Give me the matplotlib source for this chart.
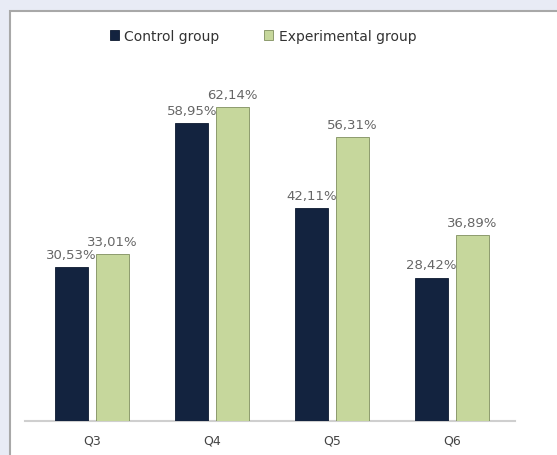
import matplotlib
matplotlib.use('Agg')
import matplotlib.pyplot as plt
from matplotlib.patches import Rectangle
import numpy as np

categories = ['Q3', 'Q4', 'Q5', 'Q6']
control = [30.53, 58.95, 42.11, 28.42]
experimental = [33.01, 62.14, 56.31, 36.89]
series_names = ['Control group', 'Experimental group']

fig = plt.figure(figsize=(5.57, 4.56), dpi=100)
fig.patch.set_facecolor('#e8ebf5')

# white panel with grey frame (behind the axes)
panel = Rectangle((10 / 557, -0.05), 1.1, 1 - 12 / 456 + 0.05,
                  transform=fig.transFigure, facecolor='white',
                  edgecolor='#a8a8a8', linewidth=1.5, zorder=-1)
fig.patches.append(panel)

ax = fig.add_axes([25 / 557, 34 / 456, 490 / 557, 362 / 456])
ax.set_facecolor('none')

x = np.arange(len(categories))
w = 0.275
off = 0.17
b1 = ax.bar(x - off, control, w, color='#13233f', edgecolor='#0c1930',
            linewidth=0.6, label=series_names[0], zorder=3)
b2 = ax.bar(x + off, experimental, w, color='#c6d79c', edgecolor='#7f8f5e',
            linewidth=0.6, label=series_names[1], zorder=3)

for bars, vals in ((b1, control), (b2, experimental)):
    for bar, v in zip(bars, vals):
        ax.text(bar.get_x() + bar.get_width() / 2, v + 1.2,
                f'{v:.2f}%'.replace('.', ','), ha='center', va='bottom',
                fontsize=9.5, color='#666666', zorder=4)

ax.set_xlim(-0.56, 3.525)
ax.set_ylim(0, 71.7)
ax.set_xticks(x)
ax.set_xticklabels(categories, fontsize=9, color='#444444')
ax.set_yticks([])
for s in ['top', 'right', 'left']:
    ax.spines[s].set_visible(False)
ax.spines['bottom'].set_color('#cfcfcf')
ax.spines['bottom'].set_linewidth(1.5)
ax.tick_params(axis='x', length=0, pad=9)

fig.legend(loc='center', bbox_to_anchor=(263 / 557, 1 - 37 / 456),
           ncol=2, frameon=False, fontsize=10, handlelength=0.65,
           handleheight=0.65, columnspacing=3.2, handletextpad=0.4,
           labelcolor='#333333')

plt.savefig('out.png', dpi=100, facecolor=fig.get_facecolor())
plt.close()
